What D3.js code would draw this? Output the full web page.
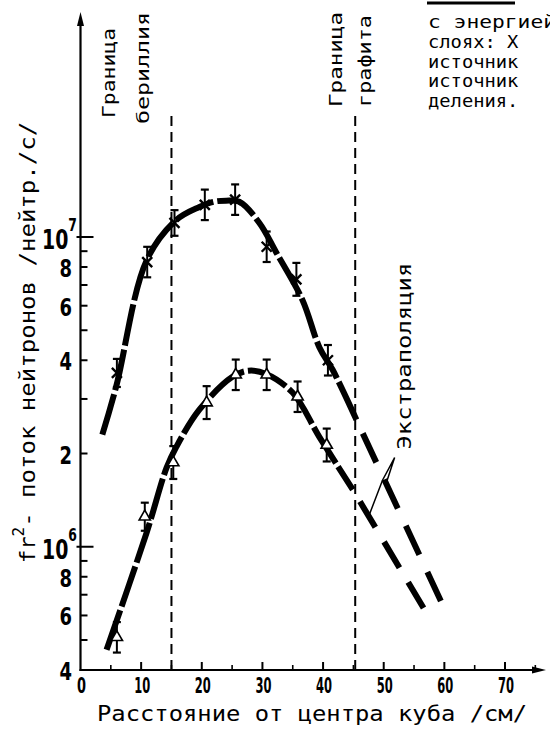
<!DOCTYPE html>
<html>
<head>
<meta charset="utf-8">
<script src="https://cdnjs.cloudflare.com/ajax/libs/d3/7.8.5/d3.min.js"></script>
<style>
body { margin: 0; background: #fff; }
</style>
</head>
<body>
<div id="chart"></div>
<script>
// Data {{{
// measured points (x: distance from cube centre, cm; y: flux * r^2)
const upperX = [6, 11, 15.5, 20.5, 25.5, 30.7, 35.6, 40.8];
const upperY = [3.64e6, 8.3e6, 11.1e6, 12.7e6, 13.2e6, 9.3e6, 7.3e6, 4.0e6];
const upperErr = [0.11, 0.12, 0.10, 0.12, 0.12, 0.12, 0.13, 0.12];

const lowerX = [6, 10.6, 15.3, 20.8, 25.6, 30.7, 35.8, 40.6];
const lowerY = [5.1e5, 1.25e6, 1.87e6, 2.92e6, 3.59e6, 3.59e6, 3.05e6, 2.13e6];
const lowerErr = [0.12, 0.11, 0.13, 0.13, 0.12, 0.12, 0.12, 0.13];

// fitted curves as drawn
const upperCurveX = [3.6, 5.9, 10.9, 15.8, 19.6, 22, 24, 26.2, 29.5, 32.3, 36.6, 39.4, 41.6, 45.5];
const upperCurveY = [2.3e6, 3.3e6, 8.4e6, 11.35e6, 12.5e6, 13e6, 13.1e6, 13e6, 11.1e6, 8.9e6, 6.26e6, 4.4e6, 3.72e6, 2.57e6];
const lowerCurveX = [4.3, 10.9, 14.2, 15.8, 19.6, 25, 27.7, 30.5, 35, 39.4, 44.9];
const lowerCurveY = [4.65e5, 1.11e6, 1.8e6, 2.1e6, 2.77e6, 3.53e6, 3.7e6, 3.62e6, 3.14e6, 2.26e6, 1.53e6];

// extrapolation beyond the graphite boundary
const upperExtrapX = [45.5, 59.7];
const upperExtrapY = [2.57e6, 6.5e5];
const lowerExtrapX = [44.9, 57.3];
const lowerExtrapY = [1.53e6, 6.0e5];

// boundaries
const boundaryX = [15, 45.3];
const boundaryNames = [["Граница", "бериллия"], ["Граница", "графита"]];

// ticks
const xTicks = [0, 10, 20, 30, 40, 50, 60, 70];
const xMinorTicks = [5, 15, 25, 35, 45, 55, 65, 75];
const yTicks = [4e5, 5e5, 6e5, 7e5, 8e5, 9e5, 1e6, 2e6, 3e6, 4e6, 5e6, 6e6, 7e6, 8e6, 9e6, 1e7];
const yLabelValues = [4e5, 6e5, 8e5, 1e6, 2e6, 4e6, 6e6, 8e6, 1e7];
const yLabelText = ["4", "6", "8", "10", "2", "4", "6", "8", "10"];
const yLabelExp = ["", "", "", "6", "", "", "", "", "7"];

// pointer of the "Экстраполяция" label: tip, then targets on the dashed lines
const pointerTip = [51.8, 1.94e6];
const pointerUpper = [50.3, 1.58e6];
const pointerLower = [[49.8, 1.64e6], [47.5, 1.25e6]];

const captionLines = ["с энергией", "слоях: X", "источник", "источник", "деления."];
// }}}

// Consts {{{
const width = 550, height = 735;
const mono = "'DejaVu Sans Mono', monospace";
const digits = "'DejaVu Sans', sans-serif";

const svg = d3.select("#chart").append("svg")
    .attr("width", width)
    .attr("height", height)
    .style("background", "#fff");

const x = d3.scaleLinear().domain([0, 70]).range([80.5, 505]);
const y = d3.scaleLog().domain([4e5, 1e7]).range([670, 237]);
const x0 = x(0), yBase = y(4e5);
const xEnd = 546, yTop = 12;
// }}}

// Axes {{{
svg.append("line")
    .attr("x1", x0).attr("x2", x0)
    .attr("y1", yBase + 1).attr("y2", yTop + 8)
    .attr("stroke", "#000").attr("stroke-width", 2.2);
svg.append("path")
    .attr("d", `M${x0},${yTop} L${x0 - 3.5},${yTop + 14} L${x0 + 3.5},${yTop + 14} Z`)
    .attr("fill", "#000");

svg.append("line")
    .attr("x1", x0 - 1).attr("x2", xEnd - 8)
    .attr("y1", yBase).attr("y2", yBase)
    .attr("stroke", "#000").attr("stroke-width", 2.2);
svg.append("path")
    .attr("d", `M${xEnd},${yBase} L${xEnd - 14},${yBase - 3.5} L${xEnd - 14},${yBase + 3.5} Z`)
    .attr("fill", "#000");

// x ticks point up
svg.selectAll(".xtick").data(xTicks.filter(d => d > 0)).enter().append("line")
    .attr("x1", d => x(d)).attr("x2", d => x(d))
    .attr("y1", yBase).attr("y2", yBase - 8)
    .attr("stroke", "#000").attr("stroke-width", 2);
svg.selectAll(".xminor").data(xMinorTicks).enter().append("line")
    .attr("x1", d => x(d)).attr("x2", d => x(d))
    .attr("y1", yBase).attr("y2", yBase - 5)
    .attr("stroke", "#000").attr("stroke-width", 1.6);
svg.selectAll(".xlab").data(xTicks).enter().append("text")
    .attr("x", d => x(d) + 1)
    .attr("y", yBase + 23)
    .attr("text-anchor", "middle")
    .attr("textLength", d => d === 0 ? 9 : 16)
    .attr("lengthAdjust", "spacingAndGlyphs")
    .style("font-family", digits)
    .style("font-weight", "bold")
    .style("font-size", "22px")
    .text(d => d);

// y ticks point right
svg.selectAll(".ytick").data(yTicks).enter().append("line")
    .attr("x1", d => (d === 1e6 || d === 1e7) ? x0 - 4 : x0)
    .attr("x2", d => (d === 1e6 || d === 1e7) ? x0 + 13 : x0 + 7)
    .attr("y1", d => y(d)).attr("y2", d => y(d))
    .attr("stroke", "#000").attr("stroke-width", 2);

const ylab = svg.selectAll(".ylab").data(yLabelValues).enter().append("text")
    .attr("x", (d, i) => yLabelExp[i] ? 77 : 72)
    .attr("y", (d, i) => y(d) + (yLabelExp[i] ? 12 : 10))
    .attr("text-anchor", "end")
    .attr("textLength", (d, i) => yLabelText[i].length * 12.5 + (yLabelExp[i] ? 10 : 0))
    .attr("lengthAdjust", "spacingAndGlyphs")
    .style("font-family", digits)
    .style("font-weight", "bold")
    .style("font-size", (d, i) => yLabelExp[i] ? "26px" : "25px");
ylab.append("tspan").text((d, i) => yLabelText[i]);
ylab.append("tspan")
    .attr("dy", -18)
    .style("font-size", "17px")
    .text((d, i) => yLabelExp[i]);
// }}}

// Boundaries {{{
svg.selectAll(".bound").data(boundaryX).enter().append("line")
    .attr("x1", d => x(d)).attr("x2", d => x(d))
    .attr("y1", 116).attr("y2", yBase)
    .attr("stroke", "#000").attr("stroke-width", 2)
    .attr("stroke-dasharray", "10,6");

const boundLabel = [
    {x: 115, y: 118, len: 90, t: boundaryNames[0][0]},
    {x: 149, y: 124, len: 112, t: boundaryNames[0][1]},
    {x: 342, y: 107, len: 95, t: boundaryNames[1][0]},
    {x: 371, y: 107, len: 92, t: boundaryNames[1][1]}
];
svg.selectAll(".blab").data(boundLabel).enter().append("text")
    .attr("transform", d => `translate(${d.x},${d.y}) rotate(-90)`)
    .attr("textLength", d => d.len)
    .attr("lengthAdjust", "spacingAndGlyphs")
    .style("font-family", mono)
    .style("font-size", "17px")
    .text(d => d.t);
// }}}

// Curves {{{
const line = d3.line()
    .x(d => x(d[0]))
    .y(d => y(d[1]))
    .curve(d3.curveCatmullRom.alpha(0.5));

function plot_curve(xs, ys, dash, offset) {
    svg.append("path")
        .datum(xs.map((v, i) => [v, ys[i]]))
        .attr("d", line)
        .attr("fill", "none")
        .attr("stroke", "#000")
        .attr("stroke-width", 6)
        .attr("stroke-dasharray", dash)
        .attr("stroke-dashoffset", offset);
}
plot_curve(upperCurveX, upperCurveY, "42,4", 0);
plot_curve(lowerCurveX, lowerCurveY, "42,4", 0);
plot_curve(upperExtrapX, upperExtrapY, "32,19", 36);
plot_curve(lowerExtrapX, lowerExtrapY, "30,17", 33);
// }}}

// Points {{{
function plot_points(xs, ys, errs, kind) {
    const g = svg.append("g");
    xs.forEach((xv, i) => {
        const cx = x(xv), cy = y(ys[i]);
        const top = y(ys[i] * (1 + errs[i])), bot = y(ys[i] / (1 + errs[i]));
        g.append("line").attr("x1", cx).attr("x2", cx).attr("y1", top).attr("y2", bot)
            .attr("stroke", "#000").attr("stroke-width", 2);
        [top, bot].forEach(v => {
            g.append("line").attr("x1", cx - 4).attr("x2", cx + 4).attr("y1", v).attr("y2", v)
                .attr("stroke", "#000").attr("stroke-width", 2.2);
        });
        if (kind === "x") {
            g.append("path")
                .attr("d", `M${cx - 5},${cy - 5}L${cx + 5},${cy + 5}M${cx - 5},${cy + 5}L${cx + 5},${cy - 5}`)
                .attr("stroke", "#000").attr("stroke-width", 2.4);
        } else {
            g.append("path")
                .attr("d", d3.symbol(d3.symbolTriangle).size(55))
                .attr("transform", `translate(${cx},${cy})`)
                .attr("fill", "#fff")
                .attr("stroke", "#000").attr("stroke-width", 1.6);
        }
    });
}
plot_points(upperX, upperY, upperErr, "x");
plot_points(lowerX, lowerY, lowerErr, "tri");
// }}}

// Annotations {{{
svg.append("text")
    .attr("transform", `translate(${x(pointerTip[0]) + 16},${y(pointerTip[1]) - 8}) rotate(-90)`)
    .attr("textLength", 187)
    .attr("lengthAdjust", "spacingAndGlyphs")
    .style("font-family", mono)
    .style("font-size", "20px")
    .text("Экстраполяция");

svg.append("path")
    .attr("d", d3.line()([
        [x(pointerUpper[0]), y(pointerUpper[1])],
        [x(pointerTip[0]), y(pointerTip[1])],
        [x(pointerLower[0][0]), y(pointerLower[0][1])],
        [x(pointerLower[1][0]), y(pointerLower[1][1])]
    ]))
    .attr("fill", "none")
    .attr("stroke", "#000")
    .attr("stroke-width", 1.5);

// y axis title
const ytitle = svg.append("text")
    .attr("transform", "translate(35,563) rotate(-90)")
    .style("font-family", mono)
    .style("font-size", "22px");
ytitle.append("tspan").text("fr");
ytitle.append("tspan").attr("dy", -11).style("font-size", "16px").text("2");
ytitle.append("tspan").attr("dy", 11)
    .attr("textLength", 405)
    .attr("lengthAdjust", "spacingAndGlyphs")
    .text("- поток нейтронов /нейтр./с/");

// x axis title
svg.append("text")
    .attr("x", 97).attr("y", 721)
    .attr("textLength", 430)
    .attr("lengthAdjust", "spacingAndGlyphs")
    .style("font-family", mono)
    .style("font-size", "22px")
    .text("Расстояние от центра куба /см/");

// cropped caption in the corner
svg.append("line")
    .attr("x1", 427).attr("x2", 515).attr("y1", 3).attr("y2", 3)
    .attr("stroke", "#000").attr("stroke-width", 3);
svg.selectAll(".cap").data(captionLines).enter().append("text")
    .attr("x", 428)
    .attr("y", (d, i) => 28 + i * 19.8)
    .attr("textLength", (d, i) => i === 0 ? 128 : d.length * 11.3)
    .attr("lengthAdjust", "spacingAndGlyphs")
    .style("font-family", mono)
    .style("font-size", "18px")
    .text(d => d);
// }}}
</script>
</body>
</html>
